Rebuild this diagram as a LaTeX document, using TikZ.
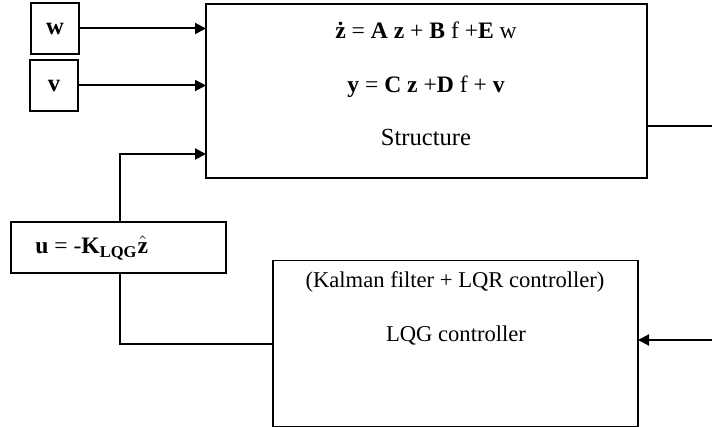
\documentclass[tikz,border=0pt]{standalone}
\usepackage{fontspec}
\setmainfont{Liberation Serif}
\usetikzlibrary{arrows.meta,positioning,calc}

\begin{document}
\begin{tikzpicture}[
    x=0.5pt,y=-0.5pt,
    font=\fontsize{12.3}{15}\selectfont,
    blk/.style={draw,line width=0.9pt,inner sep=0pt,outer sep=0pt},
    txt/.style={inner sep=0pt},
    eqn/.style={txt,font=\fontsize{11.8}{14}\selectfont},
    ctl/.style={txt,font=\fontsize{11.3}{14}\selectfont},
    arr/.style={-{Triangle[length=5.5pt,width=5.5pt]},line width=1pt},
    ln/.style={line width=1pt}
]
\useasboundingbox (0,0) rectangle (712,427);

% inputs
\node[blk,minimum width=24pt,minimum height=25.5pt] (w) at (55,28.5) {\textbf{w}};
\node[blk,minimum width=24pt,minimum height=25.5pt] (v) at (54,85.5) {\textbf{v}};

% plant
\node[blk,minimum width=220.5pt,minimum height=87pt] (str) at (426.5,91) {};
\node[eqn] (eqz) at (426,30) {\textbf{ż} = \textbf{A z} + \textbf{B} f +\textbf{E} w};
\node[eqn] (eqy) at (426,87) {\textbf{y} = \textbf{C z} +\textbf{D} f + \textbf{v}};
\node[txt] (strname) at (426,137) {Structure};

% control law
\node[blk,minimum width=107.5pt,minimum height=25.5pt] (ubox) at (118.5,247.5) {};
\node[eqn,anchor=west] (ulaw) at (35,248) {\textbf{u} = -\textbf{K}\textsubscript{\textbf{LQG}}$\hat{\mathbf{z}}$};

% controller
\node[blk,minimum width=182.5pt,minimum height=83pt] (lqg) at (455.5,343.5) {};
\node[ctl] (lqgsub) at (455,282) {(Kalman filter + LQR controller)};
\node[ctl] (lqgname) at (456,335) {LQG controller};

\coordinate (uin) at (120,154);
\coordinate (yout) at (712,126);
\coordinate (yin) at (712,340);

\draw[arr] (w.east) -- (w.east -| str.west);
\draw[arr] (v.east) -- (v.east -| str.west);
\draw[arr] (ubox.north -| uin) -- (uin) -- (uin -| str.west);
\draw[ln] (yout -| str.east) -- (yout);
\draw[arr] (yin) -- (yin -| lqg.east);
\draw[ln] (ubox.south -| uin) |- (lqg.west);
\end{tikzpicture}
\end{document}
